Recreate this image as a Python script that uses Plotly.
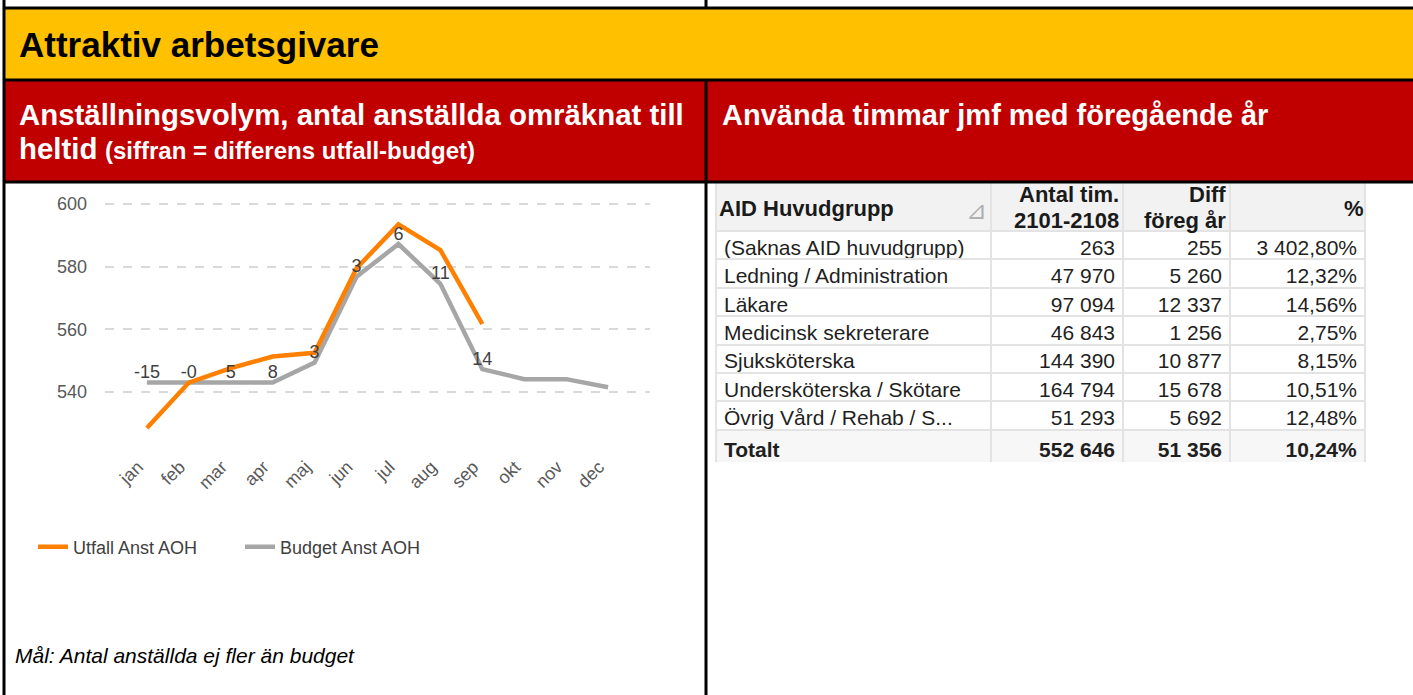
import plotly.graph_objects as go

W, H = 1413, 695

# ---------------- data ----------------
months = ["jan", "feb", "mar", "apr", "maj", "jun", "jul", "aug", "sep", "okt", "nov", "dec"]
utfall = [528.5, 543.0, 547.6, 551.3, 552.5, 579.5, 593.5, 585.3, 561.7]
budget = [543.0, 543.0, 543.0, 543.0, 549.4, 576.8, 587.2, 574.5, 547.3, 544.1, 544.1, 541.5]
diff_labels = ["-15", "-0", "5", "8", "3", "3", "6", "11", "14"]
y_ticks = [540, 560, 580, 600]

table_header_1 = ["AID Huvudgrupp", "Antal tim.", "Diff", "%"]
table_header_2 = ["", "2101-2108", "föreg år", ""]
groups = ["(Saknas AID huvudgrupp)", "Ledning / Administration", "Läkare",
          "Medicinsk sekreterare", "Sjuksköterska", "Undersköterska / Skötare",
          "Övrig Vård / Rehab / S...", "Totalt"]
hours = [263, 47970, 97094, 46843, 144390, 164794, 51293, 552646]
diff_prev = [255, 5260, 12337, 1256, 10877, 15678, 5692, 51356]
pct = [3402.80, 12.32, 14.56, 2.75, 8.15, 10.51, 12.48, 10.24]

# ---------------- helpers ----------------
def px(x):
    return x / W

def py(y):
    return 1 - y / H

def fmt_int(v):
    return f"{v:,}".replace(",", " ")

def fmt_pct(v):
    return f"{v:,.2f}".replace(",", " ").replace(".", ",") + "%"

FONT = "Liberation Sans, Arial, sans-serif"

def bold_last(vals):
    return [f"<b>{v}</b>" if i == len(vals) - 1 else v for i, v in enumerate(vals)]

fig = go.Figure()

# ---------------- line chart ----------------
fig.add_trace(go.Scatter(
    x=months, y=budget, mode="lines", name="Budget Anst AOH",
    line=dict(color="#A6A6A6", width=4.5), legendrank=2, hoverinfo="x+y"))
fig.add_trace(go.Scatter(
    x=months[:len(utfall)], y=utfall, mode="lines", name="Utfall Anst AOH",
    line=dict(color="#FF8000", width=4.5), legendrank=1, hoverinfo="x+y"))
fig.add_trace(go.Scatter(
    x=months[:len(diff_labels)], y=budget[:len(diff_labels)], mode="text",
    text=diff_labels, textposition="top center", showlegend=False,
    textfont=dict(family=FONT, size=18, color="#404040"),
    cliponaxis=False, hoverinfo="skip"))

# ---------------- table ----------------
n = len(groups)
row_fill = ["#FFFFFF"] * (n - 1) + ["#F7F7F7"]
fig.add_trace(go.Table(
    domain=dict(x=[px(716), px(1365)], y=[py(462), py(182)]),
    columnwidth=[275, 132, 107, 135],
    header=dict(
        values=["", "", "", ""],
        height=49, fill_color="#F2F2F2",
        line=dict(color="#E3E3E3", width=2)),
    cells=dict(
        values=[bold_last(groups),
                bold_last([fmt_int(v) for v in hours]),
                bold_last([fmt_int(v) for v in diff_prev]),
                bold_last([fmt_pct(v) for v in pct])],
        align=["left", "right", "right", "right"],
        height=28.4,
        fill_color=[row_fill] * 4,
        line=dict(color="#E3E3E3", width=2),
        font=dict(family=FONT, size=21, color="#1f1f1f")),
))

# ---------------- layout shapes ----------------
shapes = [
    dict(type="rect", xref="paper", yref="paper", x0=px(4), x1=1, y0=py(80), y1=py(8),
         fillcolor="#FFC000", line_width=0, layer="below"),
    dict(type="rect", xref="paper", yref="paper", x0=px(4), x1=1, y0=py(182), y1=py(80),
         fillcolor="#C00000", line_width=0, layer="below"),
]
black = dict(color="#000000", width=3)
for y in (8, 80, 182):
    shapes.append(dict(type="line", xref="paper", yref="paper", x0=px(3), x1=1,
                       y0=py(y), y1=py(y), line=black))
shapes.append(dict(type="line", xref="paper", yref="paper", x0=px(4), x1=px(4),
                   y0=0, y1=1, line=black))
shapes.append(dict(type="line", xref="paper", yref="paper", x0=px(706), x1=px(706),
                   y0=py(8), y1=1, line=black))
shapes.append(dict(type="line", xref="paper", yref="paper", x0=px(706), x1=px(706),
                   y0=0, y1=py(80), line=black))

# ---------------- annotations ----------------
def ann(text, x, y, size, color="#000000", xanchor="left", bold=False, italic=False):
    t = text
    if bold:
        t = f"<b>{t}</b>"
    if italic:
        t = f"<i>{t}</i>"
    return dict(text=t, x=px(x), y=py(y), xref="paper", yref="paper", xanchor=xanchor,
                yanchor="middle", showarrow=False,
                font=dict(family=FONT, size=size, color=color))

annotations = [
    ann("Attraktiv arbetsgivare", 17, 44, 35, bold=True),
    ann("Anställningsvolym, antal anställda omräknat till", 17, 115, 29.4, "#FFFFFF", bold=True),
    ann("heltid", 17, 149, 29.4, "#FFFFFF", bold=True),
    ann("(siffran = differens utfall-budget)", 103, 150, 24, "#FFFFFF", bold=True),
    ann("Använda timmar jmf med föregående år", 720, 115, 29, "#FFFFFF", bold=True),
    # table header
    ann(table_header_1[0], 717, 208, 22, "#1a1a1a", bold=True),
    ann(table_header_1[1], 1121, 194, 22, "#1a1a1a", xanchor="right", bold=True),
    ann(table_header_2[1], 1121, 220, 22, "#1a1a1a", xanchor="right", bold=True),
    ann(table_header_1[2], 1228, 194, 22, "#1a1a1a", xanchor="right", bold=True),
    ann(table_header_2[2], 1228, 220, 22, "#1a1a1a", xanchor="right", bold=True),
    ann(table_header_1[3], 1366, 208, 22, "#1a1a1a", xanchor="right", bold=True),
    ann("⊿", 976, 210, 25, "#B0B0B0", xanchor="center"),
    ann("Mål: Antal anställda ej fler än budget", 13, 655, 21, "#000000", italic=True),
]

fig.update_layout(
    width=W, height=H, autosize=False,
    margin=dict(l=0, r=0, t=0, b=0),
    paper_bgcolor="#FFFFFF", plot_bgcolor="rgba(0,0,0,0)",
    font=dict(family=FONT, size=18, color="#595959"),
    shapes=shapes, annotations=annotations,
    showlegend=True,
    legend=dict(orientation="h", x=px(33), y=py(547), xanchor="left", yanchor="middle",
                font=dict(family=FONT, size=18, color="#404040"),
                bgcolor="rgba(0,0,0,0)", entrywidth=162, entrywidthmode="pixels"),
    xaxis=dict(domain=[px(105), px(650)], type="category", categoryarray=months,
               categoryorder="array", range=[-1, 12], showgrid=False, zeroline=False,
               showline=False, tickangle=-45, ticklabelstandoff=13, ticklabelshift=-9,
               tickfont=dict(family=FONT, size=18, color="#595959"), fixedrange=True),
    yaxis=dict(domain=[py(439), py(188.3)], range=[525, 605], tickmode="array",
               tickvals=y_ticks, showgrid=True, gridcolor="#D9D9D9", griddash="dash",
               gridwidth=1.5, zeroline=False, showline=False, ticklabelstandoff=17,
               tickfont=dict(family=FONT, size=18, color="#595959"), fixedrange=True),
)

fig.write_html("out.html", config={"displayModeBar": False},
               post_script="document.body.style.margin='0';document.body.style.overflow='hidden';")
